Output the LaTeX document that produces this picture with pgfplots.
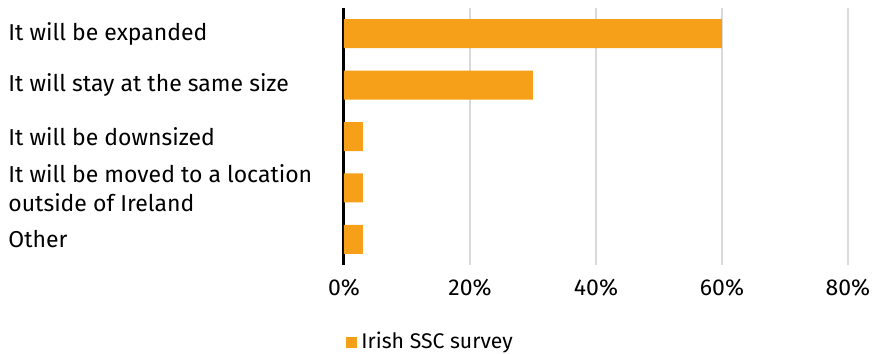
\documentclass[border=0pt]{standalone}
\usepackage{fontspec}
\setmainfont{Fira Sans}
\usepackage{pgfplots}
\pgfplotsset{compat=1.18}
\definecolor{barc}{HTML}{F6A01A}
\definecolor{gridc}{HTML}{D9D9D9}
\begin{document}
\fontsize{11.5pt}{14.5pt}\selectfont
\begin{tikzpicture}
\path[use as bounding box] (0,0) rectangle (437.5pt,177pt);
\begin{axis}[
  at={(172pt,44.5pt)}, anchor=south west,
  scale only axis, width=252pt, height=128.5pt,
  xbar, bar width=14.5pt, bar shift=0pt,
  xmin=0, xmax=80, ymin=-0.5, ymax=4.5, y dir=reverse,
  xtick={0,20,40,60,80},
  /pgf/number format/assume math mode=true,
  xticklabel={\pgfmathprintnumber{\tick}\%},
  xticklabel style={yshift=-3pt},
  ytick={0,1,2,3,4},
  yticklabels={It will be expanded, It will stay at the same size, It will be downsized, {It will be moved to a location\\outside of Ireland}, Other},
  yticklabel style={anchor=west, xshift=-168pt, inner sep=0pt, align=left},
  major tick length=0pt,
  axis lines*=left,
  x axis line style={draw=none},
  y axis line style={black, line width=1.5pt, -},
  xmajorgrids, major grid style={gridc, line width=1pt},
  legend style={at={(0,0)}, anchor=west, yshift=-38.5pt, xshift=1pt, draw=none, fill=none, inner sep=0pt, font=\fontsize{10.6pt}{12pt}\selectfont},
  legend image code/.code={\fill[barc] (0pt,-2.75pt) rectangle (5.5pt,2.75pt);},
  legend cell align=left,
]
\addplot[fill=barc, draw=none] coordinates {(60,0) (30,1) (3,2) (3,3) (3,4)};
\addlegendentry{Irish SSC survey}
\end{axis}
\end{tikzpicture}
\end{document}
